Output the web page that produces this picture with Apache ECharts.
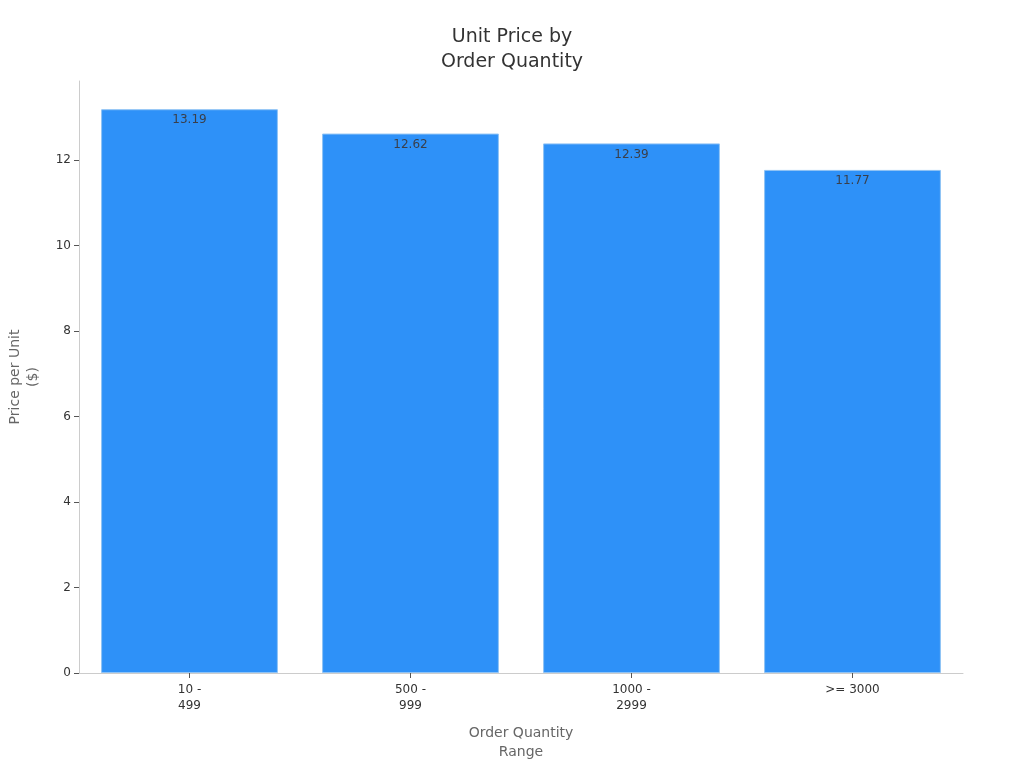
<!DOCTYPE html>
<html><head><meta charset="utf-8">
<script src="https://cdn.jsdelivr.net/npm/echarts@6/dist/echarts.min.js"></script>
<style>html,body{margin:0;padding:0;background:#fff}#c{width:1024px;height:768px}</style>
</head><body><div id="c"></div>
<script>
const categories = ["10 -\n499", "500 -\n999", "1000 -\n2999", ">= 3000"];
const prices = [13.19, 12.62, 12.39, 11.77];
const yTicks = [0, 2, 4, 6, 8, 10, 12];

const chart = echarts.init(document.getElementById('c'), null, {renderer: 'canvas'});
const F = 'DejaVu Sans';
chart.setOption({
  animation: false,
  textStyle: {fontFamily: F},
  title: {
    text: 'Unit Price by\nOrder Quantity',
    left: 'center', top: 20,
    textStyle: {fontFamily: F, fontSize: 19, fontWeight: 'normal', color: '#333', lineHeight: 25}
  },
  grid: {left: 79, right: 61, top: 81, bottom: 95, containLabel: false, outerBoundsMode: 'none'},
  xAxis: {
    type: 'category', data: categories,
    name: 'Order Quantity\nRange', nameLocation: 'middle', nameGap: 51,
    nameTextStyle: {fontFamily: F, fontSize: 14, color: '#666', lineHeight: 19},
    axisLine: {lineStyle: {color: '#ccc'}},
    axisTick: {show: true, alignWithLabel: true, length: 5, lineStyle: {color: '#555'}},
    axisLabel: {fontFamily: F, fontSize: 12, color: '#333', lineHeight: 16, margin: 9}
  },
  yAxis: {
    type: 'value', min: 0, max: 13.85,
    name: 'Price per Unit\n($)', nameLocation: 'middle', nameGap: 37,
    nameTextStyle: {fontFamily: F, fontSize: 14, color: '#666', lineHeight: 18},
    axisLine: {show: true, lineStyle: {color: '#ccc'}},
    axisTick: {show: true, length: 5, lineStyle: {color: '#555'}, customValues: yTicks},
    splitLine: {show: false},
    axisLabel: {fontFamily: F, fontSize: 12, color: '#333', margin: 8, customValues: yTicks}
  },
  series: [{
    type: 'bar', data: prices, barCategoryGap: '20%',
    itemStyle: {color: '#2e91f8', borderColor: '#8fc3f5', borderWidth: 1},
    label: {show: true, position: 'insideTop', distance: 5, fontFamily: F, fontSize: 12, color: '#3a3f4a',
      formatter: p => p.value.toFixed(2)}
  }]
});
</script></body></html>
